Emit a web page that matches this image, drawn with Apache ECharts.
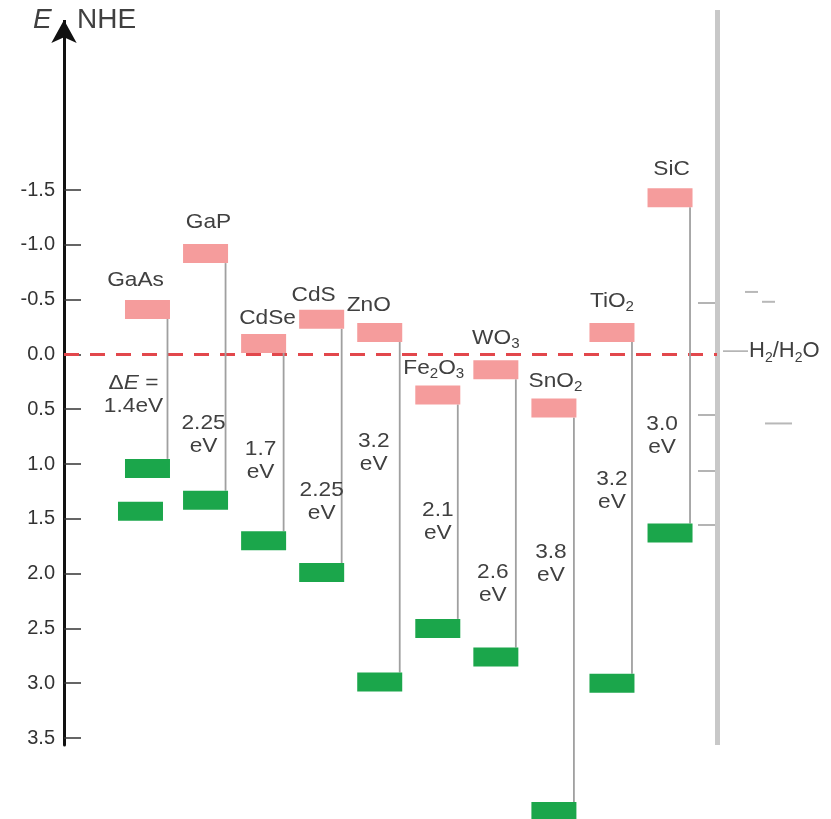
<!DOCTYPE html>
<html><head><meta charset="utf-8">
<script src="https://cdn.jsdelivr.net/npm/echarts@6/dist/echarts.min.js"></script>
<style>html,body{margin:0;padding:0;background:#fff}#c{width:831px;height:819px}</style>
</head><body><div id="c"></div>
<script>
// ---------- data ----------
const materials = ['GaAs','GaP','CdSe','CdS','ZnO','Fe2O3','WO3','SnO2','TiO2','SiC'];
const nameLabels = ['GaAs','GaP','CdSe','CdS','ZnO','Fe{s|2}O{s|3}','WO{s|3}','SnO{s|2}','TiO{s|2}','SiC'];
const conductionBand = [-0.41,-0.92,-0.10,-0.32,-0.20,0.37,0.14,0.49,-0.20,-1.43];
const valenceBand   = [1.04, 1.33, 1.70, 1.99, 2.99, 2.50, 2.76, 4.17, 3.00, 1.63];
const gapLabels = ['1.4eV','2.25','1.7','2.25','3.2','2.1','2.6','3.8','3.2','3.0'];
const extraValenceBand = [[0, 1.43]];   // second green bar next to GaAs
const yTickValues = [-1.5,-1.0,-0.5,0.0,0.5,1.0,1.5,2.0,2.5,3.0,3.5];
const rightInnerTicks = [-0.47,0.55,1.06,1.55];
const rightOuterMarks = [-0.57,-0.48,0.63];
const waterLevel = -0.03;               // H2/H2O reference

// ---------- layout (pixels / axis units, not data) ----------
const nameDx = [-12,3,4,-8,-11,-4,0,1.5,0,1.5];
const nameDy = [-29,-31.5,-25,-24,-27.5,-27,-32,-26.5,-31,-28];
const gapLabelAt = [0.366,0.73,0.97,1.34,0.895,1.53,2.09,1.91,1.24,0.745];
const gapDx = [-14,-2,-3,0,-6,0,-3,-3,0,-8];
const outerMarkX = [[28,41],[45,58],[48,75]];

const FONT = '"Liberation Sans", Arial, Helvetica, sans-serif';
const TXT = '#404040';
const BW = 45, BH = 19;

const chart = echarts.init(document.getElementById('c'));

const richBase = {
  n: {fontSize: 21, fontFamily: FONT, fill: TXT, lineHeight: 26},
  s: {fontSize: 14, fontFamily: FONT, fill: TXT, lineHeight: 12, verticalAlign: 'bottom'},
  i: {fontSize: 21, fontFamily: FONT, fill: TXT, fontStyle: 'italic', lineHeight: 23},
  g: {fontSize: 21, fontFamily: FONT, fill: TXT, lineHeight: 23}
};

function wrapName(t) {
  return t.replace(/([^{}|]+)(?![^{]*\})/g, '{n|$1}').replace(/\{n\|\}/g,'');
}

const bandData = materials.map((m, i) => [i, conductionBand[i], valenceBand[i]]);

const option = {
  animation: false,
  grid: {left: 64, right: 114, top: 31, bottom: 74},
  xAxis: {type: 'value', min: -1.438, max: 9.809, show: false},
  yAxis: [{
    type: 'value', inverse: true, min: -2.951, max: 3.564, position: 'left',
    axisLine: {show: true, onZero: false, symbol: ['none', 'arrow'], symbolSize: [19, 23],
      symbolOffset: [0, 11],
      lineStyle: {color: '#111', width: 3}},
    axisTick: {show: true, inside: true, length: 17, customValues: yTickValues,
      lineStyle: {color: '#333', width: 1.5}},
    axisLabel: {customValues: yTickValues, formatter: v => v.toFixed(1),
      fontSize: 20, color: '#333', margin: 9, fontFamily: FONT},
    splitLine: {show: false}
  }, {
    type: 'value', inverse: true, min: -2.951, max: 3.564, position: 'right',
    axisLine: {show: false, onZero: false},
    axisTick: {show: true, inside: true, length: 19, customValues: rightInnerTicks,
      lineStyle: {color: '#b4b4b4', width: 2}},
    axisLabel: {show: false},
    splitLine: {show: false}
  }],
  graphic: [
    {type: 'rect', left: 715, top: 10, shape: {width: 5, height: 735}, style: {fill: '#c8c8c8'}, z: 1},
    {type: 'rect', left: 63, top: 20, shape: {width: 3, height: 14}, style: {fill: '#111'}, z: 1},
    {type: 'text', left: 33, top: 6, style: {text: 'E', font: 'italic 28px ' + FONT, fill: TXT}},
    {type: 'text', left: 77, top: 6, style: {text: 'NHE', font: '28px ' + FONT, fill: TXT}}
  ],
  series: [
    {
      type: 'line', data: [], silent: true,
      markLine: {symbol: 'none', silent: true, label: {show: false},
        lineStyle: {type: [15, 11], width: 3, color: '#e2474c'},
        data: [{yAxis: 0}]}
    },
    {
      type: 'custom', data: bandData, z: 5,
      renderItem(params, api) {
        const i = params.dataIndex;
        const x = api.value(0);
        const cb = api.coord([x, api.value(1)]);
        const vb = api.coord([x, api.value(2)]);
        const gy = api.coord([x, gapLabelAt[i]])[1];
        const gapText = i === 0 ? '{g|Δ}{i|E}{g| =}\n{g|' + gapLabels[i] + '}' : '{g|' + gapLabels[i] + '}\n{g|eV}';
        return {type: 'group', children: [
          {type: 'line', shape: {x1: cb[0] + 20, y1: cb[1] + BH / 2, x2: cb[0] + 20, y2: vb[1] - BH / 2},
            style: {stroke: '#a0a0a0', lineWidth: 1.8}},
          {type: 'rect', shape: {x: cb[0] - BW / 2, y: cb[1] - BH / 2, width: BW, height: BH},
            style: {fill: '#f59c9c'}},
          {type: 'rect', shape: {x: vb[0] - BW / 2, y: vb[1] - BH / 2, width: BW, height: BH},
            style: {fill: '#1ba64b'}},
          {type: 'text', x: cb[0] + nameDx[i], y: cb[1] + nameDy[i], scaleX: 1.08,
            style: {text: wrapName(nameLabels[i]), rich: richBase, align: 'center', verticalAlign: 'middle'}},
          {type: 'text', x: cb[0] + gapDx[i], y: gy, scaleX: 1.08,
            style: {text: gapText, rich: richBase, align: 'center', verticalAlign: 'middle'}}
        ]};
      }
    },
    {
      type: 'scatter', data: extraValenceBand, symbol: 'rect', symbolSize: [BW, BH],
      symbolOffset: [-7, 0], itemStyle: {color: '#1ba64b', opacity: 1}, silent: true, z: 5
    },
    {
      type: 'custom', yAxisIndex: 1, data: rightOuterMarks.map((v, k) => [k, v]),
      renderItem(params, api) {
        const k = api.value(0);
        const p = api.coord([9.809, api.value(1)]);
        return {type: 'line', shape: {x1: p[0] + outerMarkX[k][0], y1: p[1], x2: p[0] + outerMarkX[k][1], y2: p[1]},
          style: {stroke: '#b8b8b8', lineWidth: 2}};
      }
    },
    {
      type: 'custom', yAxisIndex: 1, data: [[9.809, waterLevel]],
      renderItem(params, api) {
        const p = api.coord([api.value(0), api.value(1)]);
        return {type: 'group', children: [
          {type: 'line', shape: {x1: p[0] + 6, y1: p[1], x2: p[0] + 31, y2: p[1]},
            style: {stroke: '#aaaaaa', lineWidth: 1.5}},
          {type: 'text', x: p[0] + 32, y: p[1],
            style: {text: '{h|H}{hs|2}{h|/H}{hs|2}{h|O}', align: 'left', verticalAlign: 'middle',
              rich: {h: {fontSize: 22, fontFamily: FONT, fill: TXT, lineHeight: 28},
                     hs: {fontSize: 14, fontFamily: FONT, fill: TXT, lineHeight: 12, verticalAlign: 'bottom'}}}}
        ]};
      }
    }
  ]
};
chart.setOption(option);
</script>
</body></html>
